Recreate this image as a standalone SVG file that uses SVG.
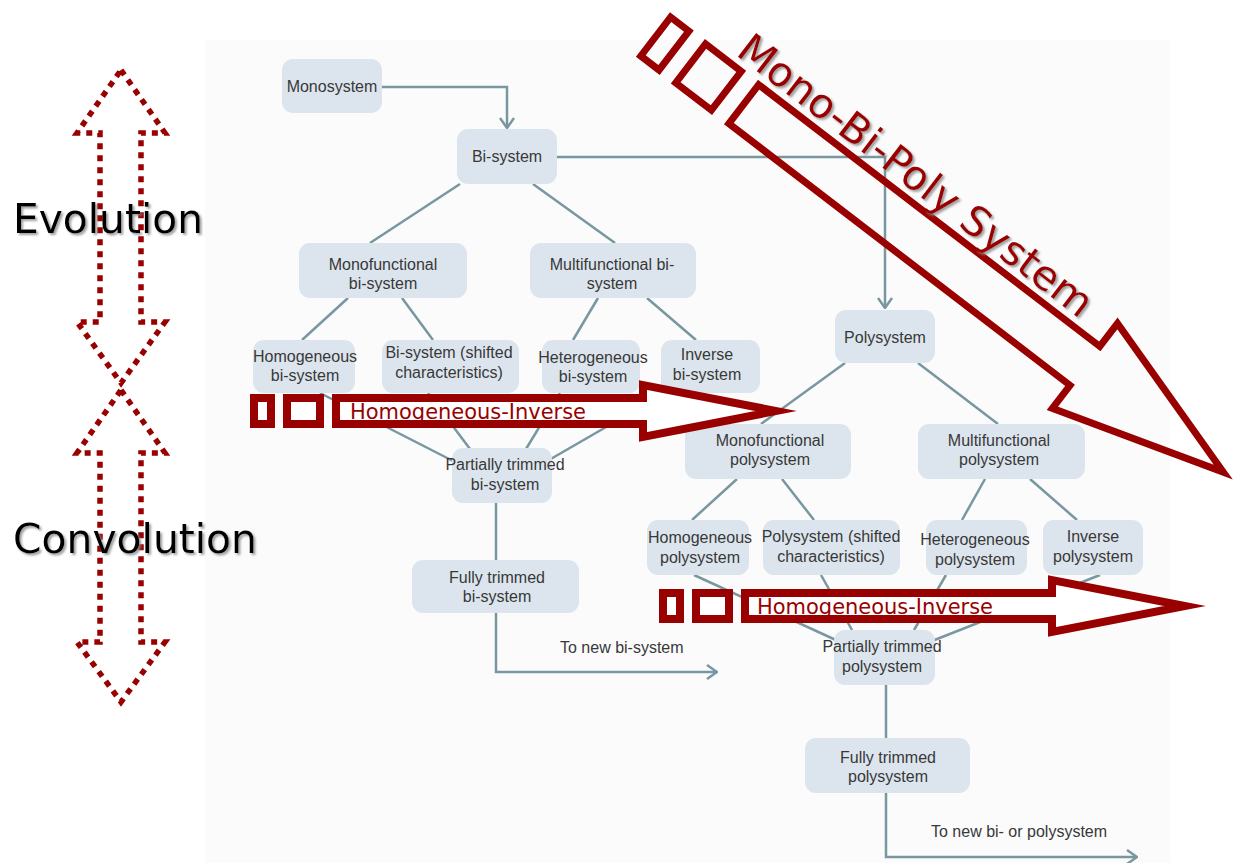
<svg xmlns="http://www.w3.org/2000/svg" width="1235" height="863" viewBox="0 0 1235 863">
<defs>
<style>
.node rect { fill:#dce5ed; }
.node text { font-family:"Liberation Sans", Arial, sans-serif; font-size:16px; fill:#383838; text-anchor:middle; }
.conn line, .conn path { stroke:#7897a1; stroke-width:2.5; fill:none; }
.lbl { font-family:"Liberation Sans", Arial, sans-serif; font-size:16px; fill:#383838; }
.red { stroke:#990000; stroke-width:8; fill:#ffffff; stroke-miterlimit:10; }
.redd { stroke:#990000; stroke-width:7; fill:none; stroke-miterlimit:10; }
.redtxt { font-family:"DejaVu Sans", Verdana, sans-serif; font-size:21px; fill:#990000; }
.big { font-family:"DejaVu Sans", Verdana, sans-serif; font-size:41px; fill:#000; }
.dots { stroke:#990000; stroke-width:5.5; stroke-dasharray:6 6; fill:none; }
</style>
<marker id="chev" viewBox="0 0 12 16" refX="11" refY="8" markerWidth="12" markerHeight="16" markerUnits="userSpaceOnUse" orient="auto">
<path d="M1,1 L11,8 L1,15" stroke="#7897a1" stroke-width="2.5" fill="none"/>
</marker>
<filter id="shadow" x="-10%" y="-10%" width="120%" height="130%">
<feDropShadow dx="2" dy="2" stdDeviation="1" flood-color="#888888" flood-opacity="0.8"/>
</filter>
</defs>
<rect x="0" y="0" width="1235" height="863" fill="#ffffff"/>
<rect x="205" y="40" width="965" height="823" fill="#fbfbfb"/>

<g id="connectors" class="conn">
<path d="M382 87 H507 V128" marker-end="url(#chev)"/>
<path d="M557 157 H885 V308" marker-end="url(#chev)"/>
<line x1="460" y1="184" x2="370" y2="243"/>
<line x1="533" y1="184" x2="615" y2="243"/>
<line x1="348" y1="298" x2="302" y2="340"/>
<line x1="402" y1="298" x2="433" y2="340"/>
<line x1="598" y1="298" x2="573" y2="340"/>
<line x1="647" y1="298" x2="696" y2="340"/>
<line x1="320" y1="393" x2="455" y2="462"/>
<line x1="428" y1="393" x2="470" y2="449"/>
<line x1="560" y1="393" x2="526" y2="449"/>
<line x1="665" y1="393" x2="549" y2="460"/>
<line x1="496" y1="503" x2="496" y2="560"/>
<path d="M496 613 V672 H717" marker-end="url(#chev)"/>
<line x1="845" y1="363" x2="761" y2="424"/>
<line x1="918" y1="363" x2="998" y2="424"/>
<line x1="737" y1="479" x2="692" y2="520"/>
<line x1="782" y1="479" x2="814" y2="520"/>
<line x1="985" y1="479" x2="962" y2="520"/>
<line x1="1030" y1="479" x2="1077" y2="520"/>
<line x1="694" y1="575" x2="838" y2="641"/>
<line x1="821" y1="575" x2="852" y2="630"/>
<line x1="946" y1="575" x2="914" y2="630"/>
<line x1="1100" y1="575" x2="932" y2="641"/>
<line x1="886" y1="685" x2="886" y2="738"/>
<path d="M886 793 V857 H1137" marker-end="url(#chev)"/>
</g>

<text class="lbl" x="560" y="653">To new bi-system</text>
<text class="lbl" x="931" y="837">To new bi- or polysystem</text>

<g id="n-monosystem" class="node"><rect x="282" y="59" width="100" height="54" rx="11"/><text x="332" y="92">Monosystem</text></g>
<g id="n-bisystem" class="node"><rect x="457" y="129" width="100" height="55" rx="11"/><text x="507" y="162">Bi-system</text></g>
<g id="n-mono-bi" class="node"><rect x="299" y="243" width="168" height="55" rx="11"/><text x="383" y="270">Monofunctional</text><text x="383" y="289">bi-system</text></g>
<g id="n-multi-bi" class="node"><rect x="530" y="243" width="166" height="55" rx="11"/><text x="612" y="270">Multifunctional bi-</text><text x="612" y="289">system</text></g>
<g id="n-homog-bi" class="node"><rect x="253" y="340" width="102" height="53" rx="11"/><text x="305" y="362">Homogeneous</text><text x="305" y="381">bi-system</text></g>
<g id="n-shifted-bi" class="node"><rect x="382" y="340" width="137" height="53" rx="11"/><text x="449" y="358">Bi-system (shifted</text><text x="449" y="378">characteristics)</text></g>
<g id="n-hetero-bi" class="node"><rect x="542" y="340" width="98" height="53" rx="11"/><text x="593" y="363">Heterogeneous</text><text x="593" y="382">bi-system</text></g>
<g id="n-inverse-bi" class="node"><rect x="661" y="340" width="99" height="53" rx="11"/><text x="707" y="360">Inverse</text><text x="707" y="380">bi-system</text></g>
<g id="n-partial-bi" class="node"><rect x="452" y="448" width="100" height="55" rx="11"/><text x="505" y="470">Partially trimmed</text><text x="505" y="490">bi-system</text></g>
<g id="n-fully-bi" class="node"><rect x="412" y="560" width="167" height="53" rx="11"/><text x="497" y="583">Fully trimmed</text><text x="497" y="602">bi-system</text></g>
<g id="n-polysystem" class="node"><rect x="835" y="310" width="100" height="53" rx="11"/><text x="885" y="343">Polysystem</text></g>
<g id="n-mono-poly" class="node"><rect x="685" y="424" width="166" height="55" rx="11"/><text x="770" y="446">Monofunctional</text><text x="770" y="465">polysystem</text></g>
<g id="n-multi-poly" class="node"><rect x="918" y="424" width="167" height="55" rx="11"/><text x="999" y="446">Multifunctional</text><text x="999" y="465">polysystem</text></g>
<g id="n-homog-poly" class="node"><rect x="647" y="520" width="102" height="55" rx="11"/><text x="700" y="543">Homogeneous</text><text x="700" y="563">polysystem</text></g>
<g id="n-shifted-poly" class="node"><rect x="763" y="520" width="137" height="55" rx="11"/><text x="831" y="542">Polysystem (shifted</text><text x="831" y="562">characteristics)</text></g>
<g id="n-hetero-poly" class="node"><rect x="926" y="520" width="101" height="55" rx="11"/><text x="975" y="545">Heterogeneous</text><text x="975" y="565">polysystem</text></g>
<g id="n-inverse-poly" class="node"><rect x="1043" y="520" width="100" height="55" rx="11"/><text x="1093" y="542">Inverse</text><text x="1093" y="562">polysystem</text></g>
<g id="n-partial-poly" class="node"><rect x="834" y="630" width="101" height="55" rx="11"/><text x="882" y="652">Partially trimmed</text><text x="882" y="672">polysystem</text></g>
<g id="n-fully-poly" class="node"><rect x="805" y="738" width="165" height="55" rx="11"/><text x="888" y="763">Fully trimmed</text><text x="888" y="782">polysystem</text></g>

<g id="arrow-hi-upper">
<rect class="red" x="254" y="398" width="17" height="26"/>
<rect class="red" x="287" y="398" width="33" height="26"/>
<polygon class="red" points="336,398 643,398 643,385 776,411 643,437 643,424 336,424"/>
<text class="redtxt" x="350" y="419" textLength="236" lengthAdjust="spacingAndGlyphs">Homogeneous-Inverse</text>
</g>
<g id="arrow-hi-lower">
<rect class="red" x="663" y="593" width="17" height="26"/>
<rect class="red" x="696" y="593" width="33" height="26"/>
<polygon class="red" points="745,593 1052,593 1052,580 1185,606 1052,632 1052,619 745,619"/>
<text class="redtxt" x="757" y="614" textLength="236" lengthAdjust="spacingAndGlyphs">Homogeneous-Inverse</text>
</g>

<g id="arrow-mono-bi-poly">
<g transform="translate(741,102) rotate(37.5)">
<rect class="redd" x="-107.5" y="-24.5" width="23" height="49"/>
<rect class="redd" x="-63.5" y="-24.5" width="45" height="49"/>
<polygon class="redd" points="3.5,-24.5 433.5,-24.5 433.5,-53.5 608,0 433.5,53.5 433.5,24.5 3.5,24.5"/>
</g>
<g filter="url(#shadow)">
<text class="big" fill="#990000" style="fill:#990000" transform="translate(741,102) rotate(37.5)" x="-34" y="-34" textLength="435" lengthAdjust="spacingAndGlyphs">Mono-Bi-Poly System</text>
</g>
</g>

<g id="evolution-arrow">
<polygon class="dots" points="121,70 165,133 141,133 141,322 165,322 121,383 77,322 100,322 100,133 77,133"/>
</g>
<g id="convolution-arrow">
<polygon class="dots" points="121,390 165,453 141,453 141,642 165,642 121,702 77,642 100,642 100,453 77,453"/>
</g>
<g filter="url(#shadow)">
<text class="big" x="13" y="233" textLength="190" lengthAdjust="spacingAndGlyphs">Evolution</text>
<text class="big" x="13" y="553" textLength="244" lengthAdjust="spacingAndGlyphs">Convolution</text>
</g>
</svg>
